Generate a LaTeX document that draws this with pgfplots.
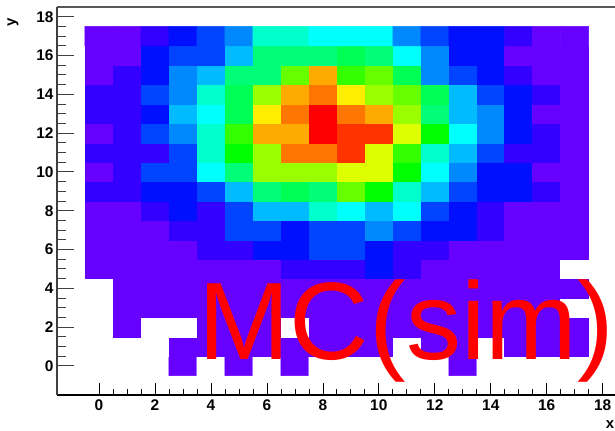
\documentclass[border=0pt]{standalone}
\usepackage{fontspec}
\setmainfont{Liberation Sans}
\usepackage{pgfplots}
\pgfplotsset{compat=1.18}
\pgfplotsset{
  rootmap/.style={
    colormap={root}{
      rgb255=(255,255,255) rgb255=(102,0,255) rgb255=(51,0,255) rgb255=(0,16,255)
      rgb255=(0,68,255) rgb255=(0,136,255) rgb255=(0,187,255) rgb255=(0,255,255)
      rgb255=(0,255,204) rgb255=(0,255,119) rgb255=(0,255,85) rgb255=(0,255,0)
      rgb255=(51,255,0) rgb255=(102,255,0) rgb255=(153,255,0) rgb255=(221,255,0)
      rgb255=(255,238,0) rgb255=(255,170,0) rgb255=(255,119,0) rgb255=(255,51,0)
      rgb255=(255,0,0)
    },
    colormap access=piecewise constant,
    point meta min=-0.5, point meta max=20.5,
  },
  base/.style={
    at={(57bp,36bp)}, anchor=south west, scale only axis,
    width=558bp, height=388bp,
    xmin=-1.5, xmax=18.44, ymin=-1.5, ymax=18.5,
    clip=false,
    tick align=inside,
    tick label style={font=\fontsize{15.5}{16}\selectfont\bfseries},
    /pgf/number format/assume math mode=true,
    minor tick num=3,
    xtick={0,2,...,18}, ytick={0,2,...,18},
  },
}
\begin{document}
\begin{tikzpicture}
\path[use as bounding box] (0,0) rectangle (615bp,431bp);
\begin{axis}[base, rootmap,
  axis x line*=bottom, axis y line=none,
  major tick length=12bp, minor tick length=6bp,
  xticklabel style={yshift=-1bp},
  x axis line style={-, black, line width=1.1bp},
  x tick style={black, line width=0.7bp},
]
\addplot[matrix plot*, draw=mapped color, line width=0.5bp, mesh/cols=18, point meta=explicit] coordinates {
(0,0)[0] (1,0)[0] (2,0)[0] (3,0)[1] (4,0)[0] (5,0)[1] (6,0)[0] (7,0)[1] (8,0)[0] (9,0)[0] (10,0)[0] (11,0)[0] (12,0)[0] (13,0)[1] (14,0)[0] (15,0)[0] (16,0)[0] (17,0)[0]
(0,1)[0] (1,1)[0] (2,1)[0] (3,1)[1] (4,1)[1] (5,1)[1] (6,1)[1] (7,1)[1] (8,1)[1] (9,1)[1] (10,1)[1] (11,1)[0] (12,1)[1] (13,1)[1] (14,1)[0] (15,1)[1] (16,1)[1] (17,1)[1]
(0,2)[0] (1,2)[1] (2,2)[0] (3,2)[0] (4,2)[1] (5,2)[1] (6,2)[1] (7,2)[0] (8,2)[1] (9,2)[1] (10,2)[1] (11,2)[1] (12,2)[1] (13,2)[1] (14,2)[1] (15,2)[1] (16,2)[1] (17,2)[1]
(0,3)[0] (1,3)[1] (2,3)[1] (3,3)[1] (4,3)[1] (5,3)[1] (6,3)[1] (7,3)[1] (8,3)[1] (9,3)[1] (10,3)[1] (11,3)[1] (12,3)[1] (13,3)[1] (14,3)[1] (15,3)[1] (16,3)[1] (17,3)[0]
(0,4)[0] (1,4)[1] (2,4)[1] (3,4)[1] (4,4)[1] (5,4)[1] (6,4)[1] (7,4)[1] (8,4)[1] (9,4)[1] (10,4)[1] (11,4)[1] (12,4)[1] (13,4)[1] (14,4)[1] (15,4)[1] (16,4)[1] (17,4)[1]
(0,5)[1] (1,5)[1] (2,5)[1] (3,5)[1] (4,5)[1] (5,5)[1] (6,5)[1] (7,5)[2] (8,5)[2] (9,5)[2] (10,5)[3] (11,5)[2] (12,5)[1] (13,5)[1] (14,5)[1] (15,5)[1] (16,5)[1] (17,5)[0]
(0,6)[1] (1,6)[1] (2,6)[1] (3,6)[1] (4,6)[2] (5,6)[2] (6,6)[3] (7,6)[3] (8,6)[4] (9,6)[4] (10,6)[3] (11,6)[2] (12,6)[2] (13,6)[1] (14,6)[1] (15,6)[1] (16,6)[1] (17,6)[1]
(0,7)[1] (1,7)[1] (2,7)[1] (3,7)[2] (4,7)[2] (5,7)[4] (6,7)[4] (7,7)[3] (8,7)[4] (9,7)[4] (10,7)[5] (11,7)[4] (12,7)[3] (13,7)[3] (14,7)[2] (15,7)[1] (16,7)[1] (17,7)[1]
(0,8)[1] (1,8)[1] (2,8)[2] (3,8)[3] (4,8)[2] (5,8)[4] (6,8)[6] (7,8)[6] (8,8)[8] (9,8)[7] (10,8)[6] (11,8)[7] (12,8)[4] (13,8)[3] (14,8)[2] (15,8)[1] (16,8)[1] (17,8)[1]
(0,9)[2] (1,9)[2] (2,9)[3] (3,9)[3] (4,9)[4] (5,9)[6] (6,9)[9] (7,9)[10] (8,9)[9] (9,9)[13] (10,9)[11] (11,9)[8] (12,9)[6] (13,9)[4] (14,9)[3] (15,9)[3] (16,9)[2] (17,9)[1]
(0,10)[1] (1,10)[2] (2,10)[4] (3,10)[4] (4,10)[7] (5,10)[9] (6,10)[14] (7,10)[14] (8,10)[14] (9,10)[15] (10,10)[15] (11,10)[11] (12,10)[7] (13,10)[5] (14,10)[3] (15,10)[3] (16,10)[1] (17,10)[1]
(0,11)[2] (1,11)[2] (2,11)[2] (3,11)[4] (4,11)[8] (5,11)[11] (6,11)[14] (7,11)[18] (8,11)[18] (9,11)[19] (10,11)[15] (11,11)[12] (12,11)[8] (13,11)[6] (14,11)[4] (15,11)[2] (16,11)[2] (17,11)[1]
(0,12)[1] (1,12)[2] (2,12)[4] (3,12)[5] (4,12)[8] (5,12)[12] (6,12)[17] (7,12)[17] (8,12)[20] (9,12)[19] (10,12)[19] (11,12)[15] (12,12)[11] (13,12)[7] (14,12)[5] (15,12)[3] (16,12)[2] (17,12)[1]
(0,13)[2] (1,13)[2] (2,13)[3] (3,13)[6] (4,13)[7] (5,13)[10] (6,13)[16] (7,13)[18] (8,13)[20] (9,13)[18] (10,13)[17] (11,13)[14] (12,13)[9] (13,13)[6] (14,13)[5] (15,13)[3] (16,13)[1] (17,13)[1]
(0,14)[2] (1,14)[2] (2,14)[4] (3,14)[5] (4,14)[8] (5,14)[10] (6,14)[14] (7,14)[17] (8,14)[18] (9,14)[16] (10,14)[14] (11,14)[13] (12,14)[10] (13,14)[6] (14,14)[4] (15,14)[3] (16,14)[2] (17,14)[1]
(0,15)[1] (1,15)[2] (2,15)[3] (3,15)[5] (4,15)[6] (5,15)[9] (6,15)[9] (7,15)[13] (8,15)[17] (9,15)[12] (10,15)[13] (11,15)[10] (12,15)[5] (13,15)[4] (14,15)[3] (15,15)[2] (16,15)[1] (17,15)[1]
(0,16)[1] (1,16)[1] (2,16)[3] (3,16)[4] (4,16)[4] (5,16)[6] (6,16)[9] (7,16)[9] (8,16)[9] (9,16)[10] (10,16)[9] (11,16)[7] (12,16)[5] (13,16)[3] (14,16)[3] (15,16)[1] (16,16)[1] (17,16)[1]
(0,17)[1] (1,17)[1] (2,17)[2] (3,17)[3] (4,17)[4] (5,17)[5] (6,17)[8] (7,17)[8] (8,17)[7] (9,17)[7] (10,17)[7] (11,17)[5] (12,17)[4] (13,17)[3] (14,17)[3] (15,17)[2] (16,17)[1] (17,17)[1]
};
\draw[gray!70!black, line width=1.6bp] (rel axis cs:0,1) -- (rel axis cs:1,1);
\node[anchor=base west, text=red, font=\fontsize{110.5}{112}\selectfont, inner sep=0pt] at (axis cs:3.54,0.35) {MC(sim)};
\node[font=\fontsize{15}{15}\selectfont\bfseries] at (rel axis cs:0.991,-0.075) {x};
\end{axis}
\begin{axis}[base,
  axis y line*=left, axis x line=none,
  major tick length=17bp, minor tick length=8.5bp,
  y axis line style={-, black!75, line width=1.3bp},
  y tick style={black!75, line width=0.8bp},
]
\node[rotate=90, font=\fontsize{15}{15}\selectfont\bfseries] at (rel axis cs:-0.079,0.961) {y};
\end{axis}
\end{tikzpicture}
\end{document}
